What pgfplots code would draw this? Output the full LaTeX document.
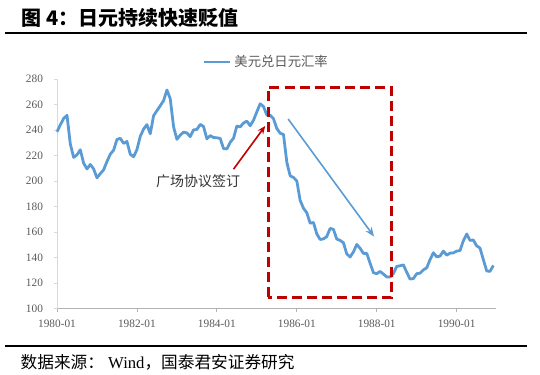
\documentclass[border=0pt]{standalone}
\usepackage{pgfplots}
\pgfplotsset{compat=1.18}
\usepackage{fontspec}
\setmainfont{Liberation Serif}
\newfontfamily\cjk{Noto Sans CJK SC}
\usetikzlibrary{arrows.meta}
\definecolor{jblue}{HTML}{5B9BD5}
\definecolor{jred}{HTML}{C00000}
\definecolor{tgray}{HTML}{595959}
\begin{document}
\begin{tikzpicture}
\path[use as bounding box] (-42.75pt,-49.3pt) rectangle (362.25pt,231.5pt);
\node[anchor=west, font=\cjk\bfseries\fontsize{15}{17}\selectfont] at (-30.2pt,218pt) {图 4：日元持续快速贬值};
\draw[black, line width=0.9pt] (-39pt,206.8pt) -- (352.5pt,206.8pt);
\draw[black, line width=0.9pt] (-39pt,-28pt) -- (352.5pt,-28pt);
\node[anchor=west, font=\cjk\fontsize{12.5}{14}\selectfont] at (-30.75pt,-40pt) {数据来源：{\rmfamily\ Wind}，国泰君安证券研究};
\begin{axis}[
  at={(0pt,0pt)}, anchor=south west,
  scale only axis, width=329.25pt, height=172.3pt,
  xmin=0, xmax=131.8, ymin=100, ymax=280,
  axis x line*=bottom, axis y line*=left,
  x axis line style={draw=black!30, line width=0.6pt},
  y axis line style={draw=black!15, line width=0.6pt},
  ytick={100,120,...,280},
  xtick={0,24,48,72,96,120},
  xticklabels={1980-01,1982-01,1984-01,1986-01,1988-01,1990-01},
  tick align=outside,
  major tick length=2.5pt,
  x tick style={draw=black!30, line width=0.6pt},
  y tick style={draw=black!15, line width=0.6pt},
  ticklabel style={font=\fontsize{8.5}{10}\selectfont, text=tgray},
  /pgf/number format/assume math mode=true,
  yticklabel style={xshift=-4.5pt},
  xticklabel style={yshift=-2.8pt},
  legend style={at={(0.477,1.074)}, anchor=center, draw=none, fill=none,
    font=\cjk\fontsize{10}{12}\selectfont, text=tgray, inner sep=0pt},
  legend image code/.code={\draw[#1] (0pt,0pt) -- (20pt,0pt);},
  clip=false,
]
\addplot[jblue, line width=2.1pt, line join=round] coordinates {
(0,238.6)(1,244.0)(2,249.0)(3,251.5)(4,229.0)(5,218.5)(6,220.5)(7,224.5)(8,214.0)(9,209.5)(10,213.0)(11,209.5)
(12,202.5)(13,205.8)(14,208.8)(15,215.3)(16,221.0)(17,224.2)(18,232.5)(19,233.5)(20,229.5)(21,231.0)(22,221.0)(23,219.0)
(24,224.6)(25,235.0)(26,240.7)(27,244.2)(28,237.0)(29,251.2)(30,255.1)(31,259.0)(32,263.0)(33,271.3)(34,264.5)(35,242.5)
(36,232.7)(37,236.0)(38,238.3)(39,237.7)(40,234.8)(41,240.1)(42,240.4)(43,244.4)(44,242.7)(45,233.1)(46,235.6)(47,234.1)
(48,233.9)(49,233.4)(50,225.4)(51,225.2)(52,230.3)(53,233.6)(54,243.1)(55,242.4)(56,245.5)(57,246.9)(58,243.3)(59,247.7)
(60,254.2)(61,260.5)(62,258.4)(63,251.7)(64,251.6)(65,248.8)(66,241.1)(67,237.5)(68,236.5)(69,214.7)(70,204.1)(71,202.8)
(72,200.1)(73,184.8)(74,178.7)(75,175.1)(76,167.0)(77,167.5)(78,158.6)(79,154.2)(80,154.7)(81,156.5)(82,162.9)(83,162.1)
(84,154.5)(85,153.5)(86,151.6)(87,142.9)(88,140.5)(89,144.5)(90,150.3)(91,147.3)(92,143.3)(93,143.3)(94,135.6)(95,128.2)
(96,127.4)(97,129.2)(98,127.1)(99,124.9)(100,124.8)(101,127.5)(102,133.1)(103,133.6)(104,134.3)(105,128.5)(106,123.2)(107,123.6)
(108,127.4)(109,127.8)(110,130.4)(111,132.0)(112,138.4)(113,143.8)(114,140.6)(115,141.2)(116,145.1)(117,141.9)(118,143.5)(119,143.7)
(120,145.1)(121,145.5)(122,153.2)(123,158.5)(124,153.5)(125,153.8)(126,149.2)(127,147.5)(128,138.4)(129,129.6)(130,129.2)(131,133.9)
};
\addlegendentry{美元兑日元汇率}
\draw[jred, line width=1.9pt, dash pattern=on 7.5pt off 3.8pt] (axis cs:63.45,108.9) rectangle (axis cs:100.5,273.3);
\draw[jred, line width=1.2pt, -{Stealth[length=6pt,width=5pt]}] (axis cs:53,209.3) -- (axis cs:62.5,243.1);
\draw[jblue, line width=1.2pt, -{Stealth[length=7pt,width=5.5pt]}] (axis cs:69.4,248.6) -- (axis cs:95.2,156.5);
\node[font=\cjk\fontsize{10.5}{12}\selectfont, text=black!80] at (axis cs:42.4,199.6) {广场协议签订};
\end{axis}
\end{tikzpicture}
\end{document}
